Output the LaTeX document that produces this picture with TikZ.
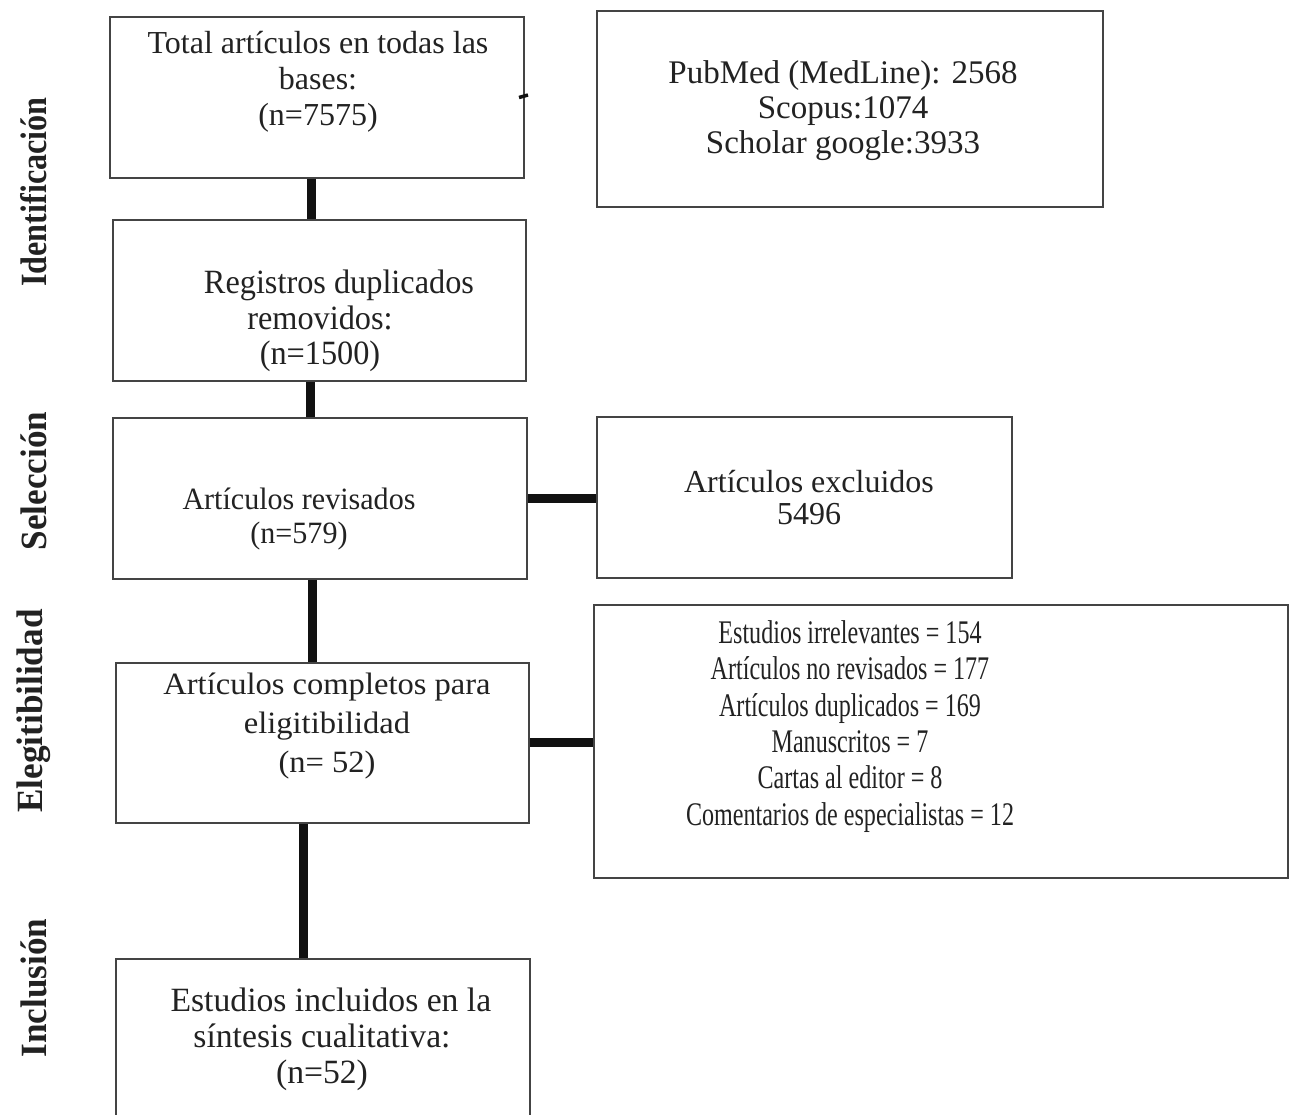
\documentclass[tikz,border=0pt]{standalone}
\usepackage{fontspec}
\setmainfont{Liberation Serif}
\definecolor{ink}{HTML}{222222}
\definecolor{edge}{HTML}{444444}
\definecolor{bar}{HTML}{111111}
\newcommand{\bt}[4]{{\fontsize{#1}{#2}\selectfont\scalebox{#3}[1]{\begin{tabular}{@{}c@{}}#4\end{tabular}}}}
\begin{document}
\begin{tikzpicture}[x=1pt,y=-1pt,
  box/.style={draw=edge, line width=1.6pt, rectangle, inner sep=0pt},
  conn/.style={draw=bar, line width=9pt},
  txt/.style={text=ink, inner sep=0pt},
  lab/.style={text=ink, inner sep=0pt, rotate=90, font=\fontsize{37}{40}\selectfont\bfseries}]
\useasboundingbox (0,0) rectangle (1290,1115);
\clip (0,0) rectangle (1290,1115);
\fill[white] (0,0) rectangle (1290,1115);
% boxes
\node[box, minimum width=414, minimum height=161] (b1) at (317,97.5) {};
\node[box, minimum width=506, minimum height=196] (b2) at (850,109) {};
\node[box, minimum width=413, minimum height=161] (b3) at (319.5,300.5) {};
\node[box, minimum width=414, minimum height=161] (b4) at (320,498.5) {};
\node[box, minimum width=415, minimum height=161] (b5) at (804.5,497.5) {};
\node[box, minimum width=413, minimum height=160] (b6) at (322.5,743) {};
\node[box, minimum width=694, minimum height=273] (b7) at (941,741.5) {};
\node[box, minimum width=414, minimum height=172] (b8) at (323,1045) {};
% texts
\node[txt] (t1) at (318,82) {\bt{32}{36}{1}{Total artículos en todas las\\bases:\\(n=7575)}};
\node[txt] (t2) at (843,112) {\bt{33}{35}{1}{PubMed (MedLine): 2568\\Scopus:1074\\Scholar google:3933}};
\node[txt] (t3) at (320,322) {\bt{34}{35.5}{0.95}{\hspace*{40pt}Registros duplicados\\removidos:\\(n=1500)}};
\node[txt] (t4) at (299,520) {\bt{31}{34}{0.97}{Artículos revisados\\(n=579)}};
\node[txt] (t5) at (809,502) {\bt{32}{32}{1}{Artículos excluidos\\5496}};
\node[txt] (t6) at (327,726) {\bt{31}{39}{1.05}{Artículos completos para\\eligitibilidad\\(n= 52)}};
\node[txt] (t7) at (850,727) {\bt{33}{36.4}{0.73}{Estudios irrelevantes = 154\\Artículos no revisados = 177\\Artículos duplicados = 169\\Manuscritos = 7\\Cartas al editor = 8\\Comentarios de especialistas = 12}};
\node[txt] (t8) at (322,1040) {\bt{34}{36}{0.99}{\hspace*{18pt}Estudios incluidos en la\\síntesis cualitativa:\\(n=52)}};
% side labels
\node[lab] (l1) at (34,192) {\scalebox{0.87}[1]{Identificación}};
\node[lab] (l2) at (34,481) {\scalebox{0.95}[1]{Selección}};
\node[lab] (l3) at (34,711) {\scalebox{0.95}[1]{Elegitibilidad}};
\node[lab] (l4) at (34,988) {\scalebox{0.95}[1]{Inclusión}};
% connectors
\draw[conn] (b1.south -| 311,0) -- (b3.north -| 311,0);
\draw[conn] (b3.south -| 310,0) -- (b4.north -| 310,0);
\draw[conn] (b4.south -| 312,0) -- (b6.north -| 312,0);
\draw[conn] (b6.south -| 303,0) -- (b8.north -| 303,0);
\draw[conn] (b4.east) -- (b4.east -| b5.west);
\draw[conn] (b6.east |- 0,742) -- (b7.west |- 0,742);
% small stray mark on the first box
\coordinate (m1) at (519,97.5);
\coordinate (m2) at (528,95);
\draw[draw=bar, line width=3.5pt] (m1) -- (m2);
\end{tikzpicture}
\end{document}
